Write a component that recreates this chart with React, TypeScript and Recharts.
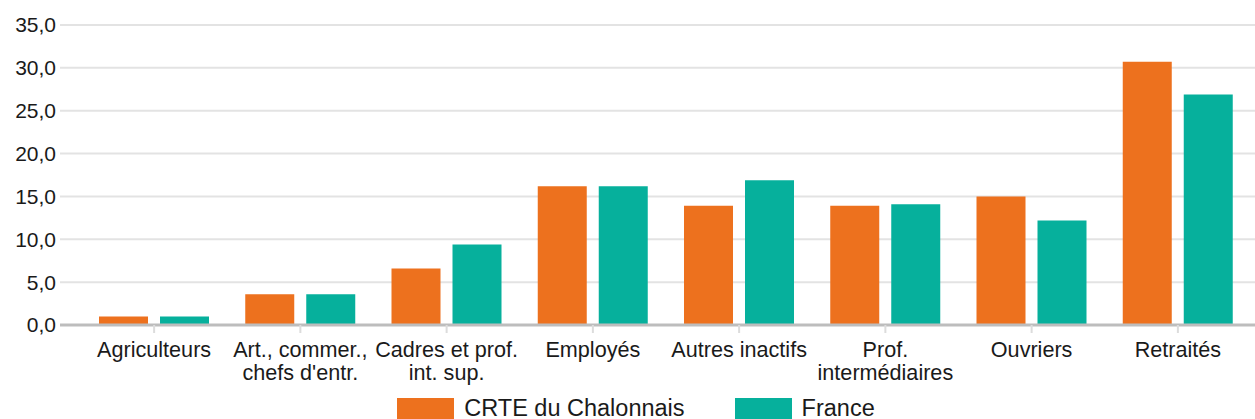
import { Bar, BarChart, CartesianGrid, Legend, XAxis, YAxis } from "recharts";

const categories = [
  "Agriculteurs",
  "Art., commer.,\nchefs d'entr.",
  "Cadres et prof.\nint. sup.",
  "Employés",
  "Autres inactifs",
  "Prof.\nintermédiaires",
  "Ouvriers",
  "Retraités",
];
const crteValues = [1.0, 3.6, 6.6, 16.2, 13.9, 13.9, 15.0, 30.7];
const franceValues = [1.0, 3.6, 9.4, 16.2, 16.9, 14.1, 12.2, 26.9];
const yTicks = [0, 5, 10, 15, 20, 25, 30, 35];

const ORANGE = "#ED711E";
const TEAL = "#06B09C";
const TEXT = "#1a1a1a";
const FONT = '"Liberation Sans", Arial, sans-serif';

const data = categories.map((categorie, i) => ({
  categorie,
  crte: crteValues[i],
  france: franceValues[i],
}));

function CategoryTick({ x, y, payload }: { x?: number; y?: number; payload?: { value: string } }) {
  const lignes = String(payload?.value ?? "").split("\n");
  return (
    <text x={x} y={y} textAnchor="middle" fill={TEXT} fontSize={21.6} fontFamily={FONT}>
      {lignes.map((l, i) => (
        <tspan key={i} x={x} dy={i === 0 ? 24 : 23}>
          {l}
        </tspan>
      ))}
    </text>
  );
}

function ChartLegend() {
  const items = [
    { label: "CRTE du Chalonnais", color: ORANGE },
    { label: "France", color: TEAL },
  ];
  return (
    <div style={{ display: "flex", justifyContent: "center", gap: 50, paddingLeft: 17, fontFamily: FONT, fontSize: 23.5, color: TEXT }}>
      {items.map((it) => (
        <div key={it.label} style={{ display: "flex", alignItems: "center", gap: 10 }}>
          <span style={{ display: "inline-block", width: 57, height: 21, backgroundColor: it.color }} />
          <span style={{ lineHeight: "22px" }}>{it.label}</span>
        </div>
      ))}
    </div>
  );
}

export default function App() {
  return (
    <div style={{ width: 1255, height: 419, overflow: "hidden" }}>
      <style>{"body{margin:0;}"}</style>
      <BarChart
        width={1255}
        height={419}
        data={data}
        margin={{ top: 25, right: 0, bottom: 0, left: 0 }}
        barSize={49}
        barGap={12}
      >
        <CartesianGrid stroke="#e3e3e3" strokeWidth={2} vertical={false} />
        <XAxis
          dataKey="categorie"
          interval={0}
          height={72}
          padding={{ left: 21, right: 4 }}
          axisLine={{ stroke: "#bdbdbd", strokeWidth: 3 }}
          tickLine={{ stroke: "#dcdcdc", strokeWidth: 2 }}
          tickSize={8}
          tickMargin={0}
          tick={<CategoryTick />}
        />
        <YAxis
          width={60}
          domain={[0, 35]}
          ticks={yTicks}
          axisLine={false}
          tickLine={false}
          tickSize={0}
          tickMargin={4}
          tick={{ fill: TEXT, fontSize: 21, fontFamily: FONT }}
          tickFormatter={(v: number) => v.toFixed(1).replace(".", ",")}
        />
        <Legend verticalAlign="bottom" height={22} content={<ChartLegend />} />
        <Bar dataKey="crte" name="CRTE du Chalonnais" fill={ORANGE} isAnimationActive={false} />
        <Bar dataKey="france" name="France" fill={TEAL} isAnimationActive={false} />
      </BarChart>
    </div>
  );
}
